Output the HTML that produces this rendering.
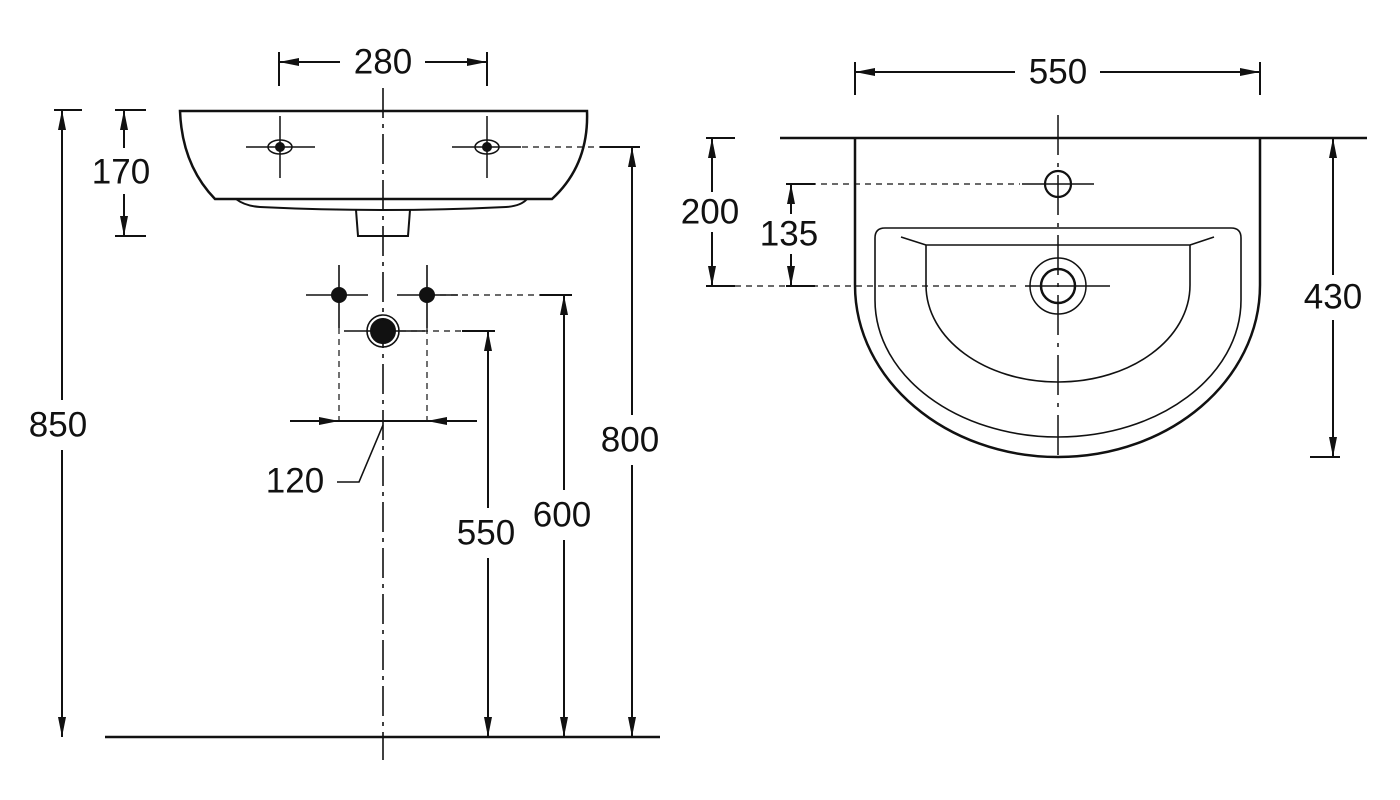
<!DOCTYPE html>
<html><head><style>html,body{margin:0;padding:0;background:#fff}svg{display:block}</style></head>
<body>
<svg width="1400" height="800" viewBox="0 0 1400 800" xmlns="http://www.w3.org/2000/svg">
<defs>
<marker id="a" viewBox="0 0 20 8" refX="20" refY="4" markerWidth="20" markerHeight="8" markerUnits="userSpaceOnUse" orient="auto-start-reverse">
<path d="M0,0 L20,4 L0,8 z" fill="#111"/></marker>
</defs>
<g stroke="#111" fill="none" stroke-width="2">
<!-- LEFT VIEW -->
<line x1="279" y1="52" x2="279" y2="86"/><line x1="487" y1="52" x2="487" y2="86"/>
<line x1="279" y1="62" x2="340" y2="62" marker-start="url(#a)"/>
<line x1="425" y1="62" x2="487" y2="62" marker-end="url(#a)"/>
<line x1="383" y1="88" x2="383" y2="760" stroke-width="1.6" stroke-dasharray="30,6,4,6"/>
<path d="M180,111 L587,111 Q589,165 552,199 L215,199 Q182,165 180,111 Z" stroke-width="2.5"/>
<path d="M236,199 Q245,206 260,207 Q383,213 506,207 Q521,206 527,199"/>
<path d="M356,210 L358,236 L408,236 L410,210"/>
<g stroke-width="1.5">
<ellipse cx="280" cy="147" rx="12" ry="7"/><ellipse cx="487" cy="147" rx="12" ry="7"/>
<line x1="246" y1="147" x2="315" y2="147"/><line x1="280" y1="116" x2="280" y2="178"/>
<line x1="452" y1="147" x2="521" y2="147"/><line x1="487" y1="116" x2="487" y2="178"/>
</g>
<circle cx="280" cy="147" r="4" fill="#111"/><circle cx="487" cy="147" r="4" fill="#111"/>
<g stroke-width="1.2" stroke-dasharray="6,5">
<line x1="522" y1="147" x2="600" y2="147"/>
<line x1="440" y1="295" x2="540" y2="295"/>
<line x1="400" y1="331" x2="462" y2="331"/>
<line x1="339" y1="328" x2="339" y2="425"/><line x1="427" y1="328" x2="427" y2="425"/>
</g>
<line x1="600" y1="147" x2="640" y2="147"/>
<line x1="540" y1="295" x2="572" y2="295"/>
<line x1="462" y1="331" x2="495" y2="331"/>
<line x1="115" y1="110" x2="146" y2="110"/><line x1="115" y1="236" x2="146" y2="236"/>
<line x1="124" y1="110" x2="124" y2="148" marker-start="url(#a)"/>
<line x1="124" y1="194" x2="124" y2="236" marker-end="url(#a)"/>
<line x1="54" y1="110" x2="82" y2="110"/>
<line x1="62" y1="110" x2="62" y2="400" marker-start="url(#a)"/>
<line x1="62" y1="450" x2="62" y2="737" marker-end="url(#a)"/>
<line x1="105" y1="737" x2="660" y2="737" stroke-width="2.5"/>
<line x1="632" y1="147" x2="632" y2="415" marker-start="url(#a)"/>
<line x1="632" y1="465" x2="632" y2="737" marker-end="url(#a)"/>
<line x1="564" y1="295" x2="564" y2="490" marker-start="url(#a)"/>
<line x1="564" y1="540" x2="564" y2="737" marker-end="url(#a)"/>
<line x1="488" y1="331" x2="488" y2="508" marker-start="url(#a)"/>
<line x1="488" y1="558" x2="488" y2="737" marker-end="url(#a)"/>
<g stroke-width="1.6">
<line x1="306" y1="295" x2="368" y2="295"/><line x1="339" y1="265" x2="339" y2="328"/>
<line x1="397" y1="295" x2="458" y2="295"/><line x1="427" y1="265" x2="427" y2="328"/>
<line x1="344" y1="331" x2="425" y2="331"/>
</g>
<circle cx="339" cy="295" r="8" fill="#111" stroke="none"/><circle cx="427" cy="295" r="8" fill="#111" stroke="none"/>
<circle cx="383" cy="331" r="16" stroke-width="1.6"/><circle cx="383" cy="331" r="12" fill="#111"/>
<line x1="290" y1="421" x2="339" y2="421" marker-end="url(#a)"/>
<line x1="339" y1="421" x2="427" y2="421"/>
<line x1="477" y1="421" x2="427" y2="421" marker-end="url(#a)"/>
<polyline points="383,425 359,482 337,482" stroke-width="1.6"/>
<!-- RIGHT VIEW -->
<line x1="855" y1="62" x2="855" y2="95"/><line x1="1260" y1="62" x2="1260" y2="95"/>
<line x1="855" y1="72" x2="1015" y2="72" marker-start="url(#a)"/>
<line x1="1100" y1="72" x2="1260" y2="72" marker-end="url(#a)"/>
<line x1="780" y1="138" x2="1367" y2="138" stroke-width="2.5"/>
<path d="M855,138 L855,285 C855,380 946,457 1058,457 C1170,457 1260,380 1260,285 L1260,138" stroke-width="2.5"/>
<path d="M875,300 L875,238 Q875,228 885,228 L1231,228 Q1241,228 1241,238 L1241,300 C1241,376 1159,437 1058,437 C957,437 875,376 875,300 Z" stroke-width="1.6"/>
<path d="M926,245 L926,285 C926,339 985,382 1058,382 C1131,382 1190,339 1190,285 L1190,245 Z M901,237 L926,245 M1190,245 L1214,237" stroke-width="1.6"/>
<line x1="1058" y1="115" x2="1058" y2="460" stroke-width="1.5" stroke-dasharray="40,8,4,8"/>
<circle cx="1058" cy="184" r="13" stroke-width="2.2"/>
<line x1="1022" y1="184" x2="1094" y2="184" stroke-width="1.5"/>
<circle cx="1058" cy="286" r="28" stroke-width="1.5"/><circle cx="1058" cy="286" r="17" stroke-width="2.5"/>
<line x1="1025" y1="286" x2="1110" y2="286" stroke-width="1.5"/>
<g stroke-width="1.2" stroke-dasharray="6,5">
<line x1="735" y1="286" x2="1020" y2="286"/>
<line x1="810" y1="184" x2="1020" y2="184"/>
</g>
<line x1="706" y1="138" x2="735" y2="138"/><line x1="706" y1="286" x2="735" y2="286"/>
<line x1="786" y1="184" x2="815" y2="184"/><line x1="786" y1="286" x2="815" y2="286"/>
<line x1="712" y1="138" x2="712" y2="192" marker-start="url(#a)"/>
<line x1="712" y1="232" x2="712" y2="286" marker-end="url(#a)"/>
<line x1="791" y1="184" x2="791" y2="214" marker-start="url(#a)"/>
<line x1="791" y1="254" x2="791" y2="286" marker-end="url(#a)"/>
<line x1="1310" y1="457" x2="1340" y2="457"/>
<line x1="1333" y1="138" x2="1333" y2="275" marker-start="url(#a)"/>
<line x1="1333" y1="320" x2="1333" y2="457" marker-end="url(#a)"/>
</g>
<g font-family="Liberation Sans, sans-serif" font-size="35" fill="#111" text-anchor="middle" dominant-baseline="central">
<text x="383" y="62">280</text>
<text x="121" y="172">170</text>
<text x="58" y="425">850</text>
<text x="630" y="440">800</text>
<text x="562" y="515">600</text>
<text x="486" y="533">550</text>
<text x="295" y="481">120</text>
<text x="1058" y="72">550</text>
<text x="710" y="212">200</text>
<text x="789" y="234">135</text>
<text x="1333" y="297">430</text>
</g>
</svg>
</body></html>
